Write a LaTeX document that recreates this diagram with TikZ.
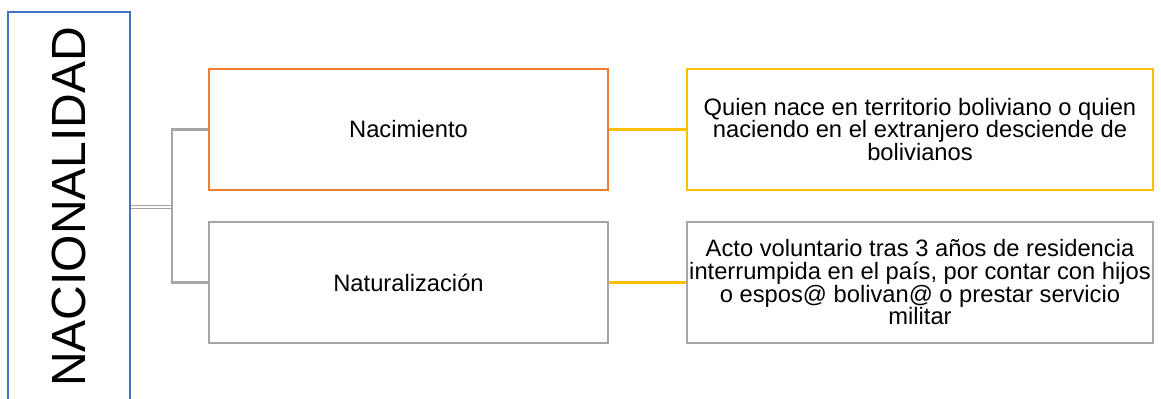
\documentclass[tikz,border=0pt]{standalone}
\usepackage{fontspec}
\setmainfont{Liberation Sans}
\usetikzlibrary{positioning}
\definecolor{ofblue}{HTML}{4472C4}
\definecolor{oforange}{HTML}{ED7D31}
\definecolor{ofgray}{HTML}{A5A5A5}
\definecolor{ofgold}{HTML}{FFC000}

\begin{document}
\begin{tikzpicture}[
  box/.style={draw, line width=1.4pt, minimum width=7.98cm, minimum height=2.42cm,
    inner xsep=0pt, align=center, font=\fontsize{13.5}{12.9}\selectfont},
  conn/.style={draw=ofgray, line width=1.4pt},
  goldline/.style={draw=ofgold, line width=1.4pt}
]
  \useasboundingbox (0,0) rectangle (23.22,7.98);
  \clip (0,0) rectangle (23.22,7.98);
  \node[draw=ofblue, line width=1.4pt, rotate=90, minimum width=7.80cm, minimum height=2.44cm,
    font=\fontsize{27.3}{30}\selectfont] (nac) at (1.38,3.84) {NACIONALIDAD};
  \node[box, draw=oforange] (nacim) at (8.17,5.39) {Nacimiento};
  \node[box, draw=ofgray] (natur) at (8.17,2.33) {Naturalización};
  \node[box, draw=ofgold, minimum width=9.32cm] (quien) at (18.40,5.39)
    {Quien nace en territorio boliviano o quien\\naciendo en el extranjero desciende de\\bolivianos};
  \node[box, draw=ofgray, minimum width=9.32cm] (acto) at (18.40,2.33)
    {Acto voluntario tras 3 años de residencia\\interrumpida en el país, por contar con hijos\\o espos@ bolivan@ o prestar servicio\\militar};
  \coordinate (junc) at (3.44,3.84);
  \draw[conn, line width=0.9pt, double=white, double distance=0.7pt] (nac.south) -- (junc);
  \draw[conn] (nacim.west) -| (junc) |- (natur.west);
  \draw[goldline] (nacim) -- (quien);
  \draw[goldline] (natur) -- (acto);
\end{tikzpicture}
\end{document}
